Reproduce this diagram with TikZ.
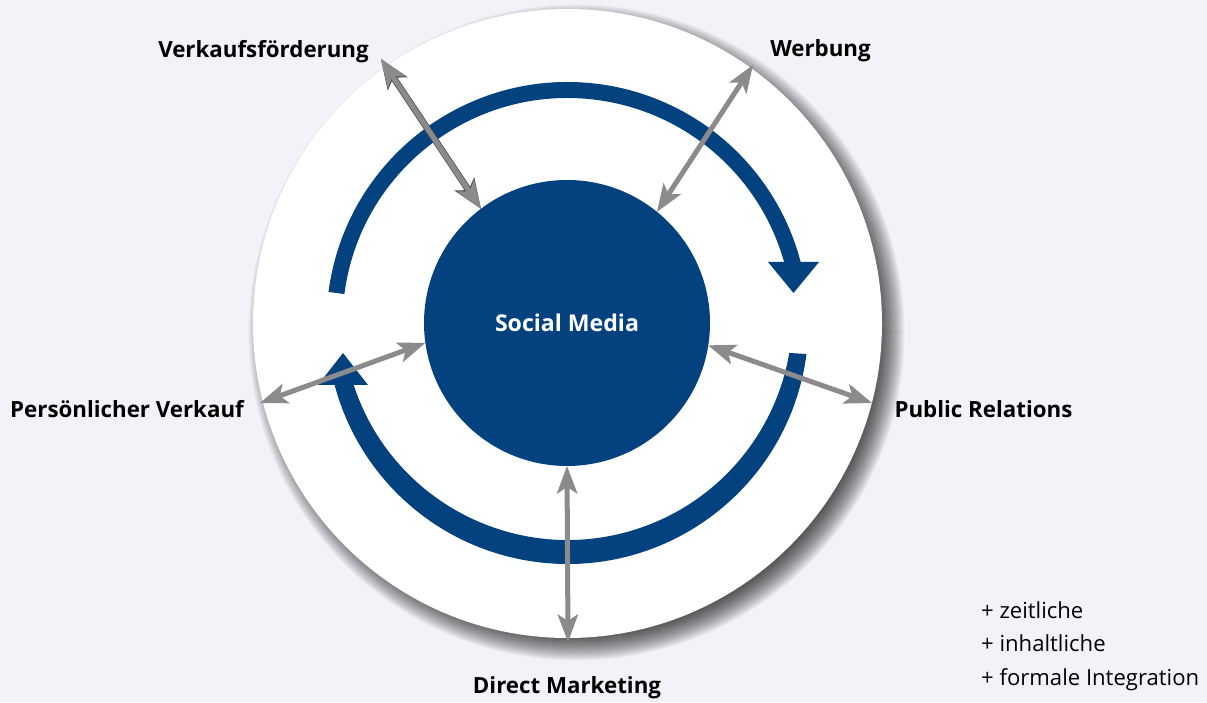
\documentclass[tikz,border=0pt]{standalone}
\usepackage{fontspec}
\setmainfont{Open Sans}
\usetikzlibrary{arrows.meta,calc}
\definecolor{pagebg}{HTML}{F2F3F8}
\definecolor{smblue}{HTML}{03427F}
\definecolor{linkgray}{HTML}{8B8B8D}
\definecolor{linkedge}{HTML}{505052}
\begin{document}
\begin{tikzpicture}[x=1pt,y=1pt,
  lbl/.style={font=\fontsize{22.3}{26}\selectfont\bfseries, anchor=base, inner sep=0pt},
  note/.style={font=\fontsize{22.1}{26}\selectfont, anchor=base west, inner sep=0pt},
  link/.style={draw=linkgray, line width=5pt, {Stealth[length=28pt,width=21pt,inset=7pt,line width=0pt]}-{Stealth[length=28pt,width=21pt,inset=7pt,line width=0pt]}},
  linkrim/.style={draw=linkedge, line width=6.6pt, {Stealth[length=30pt,width=24pt,inset=7.5pt,line width=0pt]}-{Stealth[length=30pt,width=24pt,inset=7.5pt,line width=0pt]}},
]
% page
\fill[pagebg] (0,0) rectangle (1207,702);
\useasboundingbox (0,0) rectangle (1207,702);

% soft shadow under the white disc, falling to the lower right
\foreach \k in {0,...,26}{
  \fill[black, opacity=0.035] (576.5,369.5) circle[radius={302+\k}];
}
% white disc
\fill[white] (567.5,378.5) circle[radius=314.5];

% cycle arrows around the centre
\coordinate (C) at (567.5,379);
\coordinate (C2) at (567.5,387);
\draw[smblue, line width=16pt] ($(C)+(172.6:233)$) arc[start angle=172.6, end angle=13, radius=233pt];
\fill[smblue] (768,440) -- (819,440) -- (793.5,409) -- cycle;
\fill[smblue] ($(C)+(-7.4:241)$) arc[start angle=-7.4, end angle=-167, radius=241pt]
   -- ($(C2)+(-163.7:225)$) arc[start angle=-163.7, end angle=-9.71, radius=225pt] -- cycle;
\fill[smblue] (318,317) -- (368,317) -- (343,349) -- cycle;

% centre
\node[circle, fill=smblue, minimum size=286pt, inner sep=0pt, outer sep=0pt,
      text=white, font=\fontsize{23.1}{27}\selectfont\bfseries] (sm) at (567,379) {Social Media};

% outer ends of the links
\coordinate (vfEnd) at (381,643);
\coordinate (wbEnd) at (753,637);
\coordinate (prEnd) at (872,299);
\coordinate (pvEnd) at (260,299);
\coordinate (dmEnd) at (568,60);

\draw[linkrim] (vfEnd) -- (sm.127.7);
\draw[link] (vfEnd) -- (sm.127.7);
\draw[link] (wbEnd) -- (sm.51);
\draw[link] (prEnd) -- (sm.-9.3);
\draw[link] (pvEnd) -- (sm.188.1);
\draw[link] (dmEnd) -- (sm.270);

% labels
\node[lbl] (vf) at (263.5,644.7) {Verkaufsförderung};
\node[lbl] (wb) at (820.5,645) {Werbung};
\node[lbl] (pv) at (127,284.7) {Persönlicher Verkauf};
\node[lbl] (pr) at (983.5,284.3) {Public Relations};
\node[lbl] (dm) at (567,8.4) {Direct Marketing};

\node[note] (n1) at (981,83.7) {+ zeitliche};
\node[note] (n2) at (981,50.3) {+ inhaltliche};
\node[note] (n3) at (981,17) {+ formale Integration};
\end{tikzpicture}
\end{document}
